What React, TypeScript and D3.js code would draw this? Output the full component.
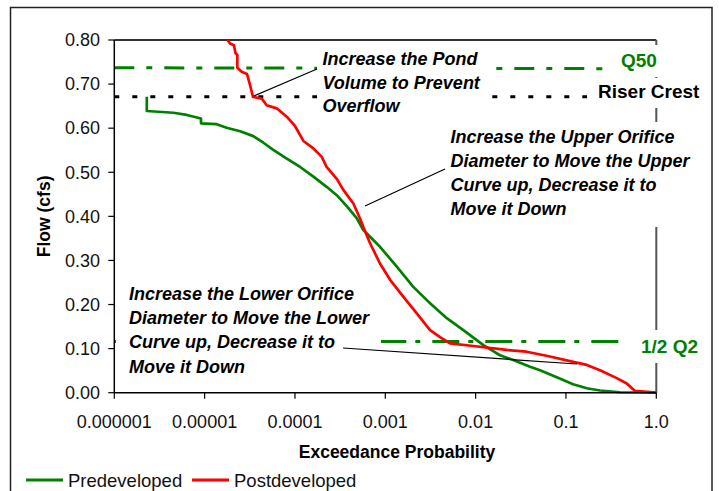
import React from "react";
import * as d3 from "d3";

const xTicks = [1e-6, 1e-5, 1e-4, 1e-3, 1e-2, 1e-1, 1];
const xTickLabels = ["0.000001", "0.00001", "0.0001", "0.001", "0.01", "0.1", "1.0"];
const yTicks = [0, 0.1, 0.2, 0.3, 0.4, 0.5, 0.6, 0.7, 0.8];

const predevP = [2.29e-6, 2.29e-6, 4.5e-6, 6.34e-6, 9.12e-6, 9.12e-6, 1.36e-5, 1.75e-5, 2.47e-5, 3.46e-5, 4.47e-5, 5.75e-5, 8.11e-5, 1.14e-4, 1.6e-4, 2.24e-4, 2.9e-4, 3.74e-4, 4.82e-4, 5.71e-4, 8.73e-4, 1.34e-3, 2.04e-3, 3.13e-3, 4.79e-3, 7.31e-3, 0.0122, 0.0186, 0.0261, 0.04, 0.0516, 0.0791, 0.12, 0.17, 0.238, 0.396, 1.0];
const predevQ = [0.671, 0.639, 0.635, 0.63, 0.622, 0.611, 0.609, 0.601, 0.593, 0.582, 0.567, 0.551, 0.531, 0.512, 0.49, 0.467, 0.448, 0.423, 0.396, 0.369, 0.331, 0.286, 0.24, 0.203, 0.169, 0.142, 0.108, 0.085, 0.074, 0.059, 0.051, 0.035, 0.019, 0.01, 0.005, 0.001, 0];

const postdevP = [1.79e-5, 1.91e-5, 2.11e-5, 2.2e-5, 2.3e-5, 2.3e-5, 2.57e-5, 2.94e-5, 3.18e-5, 3.43e-5, 4.29e-5, 4.86e-5, 6.28e-5, 8.11e-5, 1.0e-4, 1.24e-4, 1.6e-4, 1.98e-4, 2.24e-4, 2.9e-4, 3.43e-4, 4.43e-4, 5.25e-4, 5.71e-4, 6.78e-4, 8.73e-4, 1.13e-3, 1.58e-3, 2.23e-3, 3.13e-3, 4.04e-3, 5.2e-3, 9.42e-3, 0.0221, 0.0367, 0.0665, 0.12, 0.17, 0.238, 0.365, 0.471, 0.581, 1.0];
const postdevQ = [0.8, 0.792, 0.788, 0.77, 0.766, 0.737, 0.728, 0.723, 0.698, 0.671, 0.667, 0.652, 0.645, 0.626, 0.605, 0.571, 0.554, 0.535, 0.512, 0.485, 0.46, 0.429, 0.395, 0.376, 0.339, 0.293, 0.256, 0.218, 0.18, 0.142, 0.126, 0.112, 0.106, 0.097, 0.093, 0.082, 0.07, 0.063, 0.051, 0.033, 0.021, 0.004, 0];

const q50P = [1e-6, 0.285];
const q50Q = [0.737, 0.735];
const riserP = [1e-6, 0.171];
const riserQ = [0.671, 0.671];
const halfQ2P = [1e-6, 0.451];
const halfQ2Q = [0.116, 0.116];

const seriesNames = ["Predeveloped", "Postdeveloped"];
const seriesColors = ["#008000", "#ff0000"];

const pondNote = ["Increase the Pond", "Volume to Prevent", "Overflow"];
const upperNote = ["Increase the Upper Orifice", "Diameter to Move the Upper", "Curve up, Decrease it to", "Move it Down"];
const lowerNote = ["Increase the Lower Orifice", "Diameter to Move the Lower", "Curve up, Decrease it to", "Move it Down"];

const FONT = "'Liberation Sans', Arial, sans-serif";

export default function App() {
  const left = 114.3, right = 656.3, top = 40, bottom = 392.7;
  const x = d3.scaleLog().domain([1e-6, 1]).range([left, right]);
  const y = d3.scaleLinear().domain([0, 0.8]).range([bottom, top]);
  const line = d3.line<[number, number]>().x(d => x(d[0])).y(d => y(d[1]));
  const zip = (a: number[], b: number[]) => a.map((v, i) => [v, b[i]] as [number, number]);

  const pre = line(zip(predevP, predevQ)) || "";
  const post = line(zip(postdevP, postdevQ)) || "";
  const q50 = line(zip(q50P, q50Q)) || "";
  const riser = line(zip(riserP, riserQ)) || "";
  const q2 = line(zip(halfQ2P, halfQ2Q)) || "";

  const noteStyle = { fontFamily: FONT, fontSize: 18, fontWeight: 700, fontStyle: "italic" as const, fill: "#000" };

  return (
    <svg width={719} height={491} style={{ position: "absolute", left: 0, top: 0, background: "#fff" }}>
      <defs>
        <clipPath id="plotclip">
          <rect x={left} y={top - 1} width={right - left + 2} height={bottom - top + 2} />
        </clipPath>
      </defs>
      <rect x={0} y={0} width={719} height={491} fill="#fff" />
      {/* outer frame */}
      <rect x={10.5} y={7.5} width={701.5} height={520} fill="none" stroke="#222" strokeWidth={1.5} />

      {/* plot border top & right */}
      <line x1={left} x2={right} y1={top} y2={top} stroke="#333" strokeWidth={2} />
      <line x1={right} x2={right} y1={top} y2={bottom} stroke="#555" strokeWidth={2} />

      {/* reference lines */}
      <path d={q50} fill="none" stroke="#008000" strokeWidth={3} strokeDasharray="20 12 6 12" />
      <path d={riser} fill="none" stroke="#000" strokeWidth={3} strokeDasharray="5 13" />
      <path d={q2} fill="none" stroke="#008000" strokeWidth={3} strokeDasharray="27 9 5 12" />

      {/* curves */}
      <g clipPath="url(#plotclip)">
        <path d={pre} fill="none" stroke={seriesColors[0]} strokeWidth={2.7} strokeLinejoin="round" />
        <path d={post} fill="none" stroke={seriesColors[1]} strokeWidth={2.7} strokeLinejoin="round" />
      </g>

      {/* white text boxes */}
      <rect x={317} y={45} width={175} height={73} fill="#fff" />
      <rect x={446} y={122} width={254} height={105} fill="#fff" />
      <rect x={116} y={280} width={265} height={100} fill="#fff" />
      <rect x={615} y={45} width={46} height={32} fill="#fff" />
      <rect x={594} y={78} width={110} height={30} fill="#fff" />
      <rect x={637} y={330} width={68} height={33} fill="#fff" />

      {/* axes */}
      <line x1={left} x2={left} y1={top} y2={bottom} stroke="#000" strokeWidth={1.5} />
      <line x1={left} x2={right} y1={bottom} y2={bottom} stroke="#000" strokeWidth={1.5} />
      {yTicks.map((t, i) => (
        <g key={"y" + i}>
          <line x1={left - 6} x2={left} y1={y(t)} y2={y(t)} stroke="#000" strokeWidth={1.2} />
          <text x={100} y={y(t)} dy="0.35em" textAnchor="end" fontFamily={FONT} fontSize={18} fill="#111">
            {d3.format(".2f")(t)}
          </text>
        </g>
      ))}
      {xTicks.map((t, i) => (
        <g key={"x" + i}>
          <line x1={x(t)} x2={x(t)} y1={bottom} y2={bottom + 6} stroke="#000" strokeWidth={1.2} />
          <text x={x(t)} y={428} textAnchor="middle" fontFamily={FONT} fontSize={18} fill="#111">
            {xTickLabels[i]}
          </text>
        </g>
      ))}

      {/* axis titles */}
      <text x={397} y={458} textAnchor="middle" fontFamily={FONT} fontSize={17.5} fontWeight={700} fill="#000">
        Exceedance Probability
      </text>
      <text transform={`translate(50,${(top + bottom) / 2}) rotate(-90)`} textAnchor="middle" fontFamily={FONT} fontSize={17.5} fontWeight={700} fill="#000">
        Flow (cfs)
      </text>

      {/* pointer lines */}
      <line x1={317} y1={69} x2={254} y2={96} stroke="#000" strokeWidth={1.2} />
      <line x1={445} y1={169} x2={365} y2={206} stroke="#000" strokeWidth={1.2} />
      <line x1={343} y1={348} x2={577} y2={364} stroke="#000" strokeWidth={1.2} />

      {/* reference labels */}
      <text x={621} y={66.5} fontFamily={FONT} fontSize={19} fontWeight={700} fill="#008000">Q50</text>
      <text x={598} y={98} fontFamily={FONT} fontSize={19} fontWeight={700} fill="#000">Riser Crest</text>
      <text x={641} y={353} fontFamily={FONT} fontSize={19} fontWeight={700} fill="#008000">1/2 Q2</text>

      {/* notes */}
      {pondNote.map((s, i) => (
        <text key={"p" + i} x={322.5} y={65 + i * 23.5} {...noteStyle}>{s}</text>
      ))}
      {upperNote.map((s, i) => (
        <text key={"u" + i} x={450.5} y={143.3 + i * 24} {...noteStyle}>{s}</text>
      ))}
      {lowerNote.map((s, i) => (
        <text key={"l" + i} x={129} y={300 + i * 24.2} {...noteStyle}>{s}</text>
      ))}

      {/* legend */}
      {seriesNames.map((n, i) => {
        const lx = [26, 192][i];
        return (
          <g key={"lg" + i}>
            <line x1={lx} x2={lx + 37} y1={480} y2={480} stroke={seriesColors[i]} strokeWidth={3} />
            <text x={lx + 42} y={486.5} fontFamily={FONT} fontSize={18.5} fill="#111">{n}</text>
          </g>
        );
      })}
    </svg>
  );
}
